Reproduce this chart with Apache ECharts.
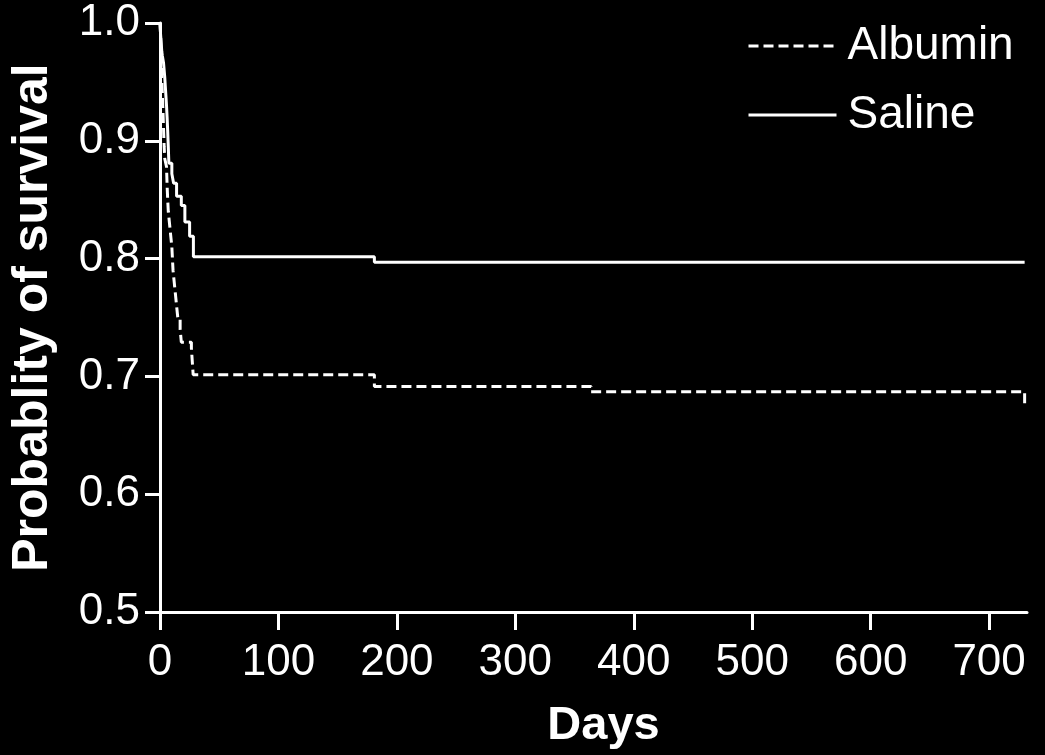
<!DOCTYPE html>
<html>
<head>
<meta charset="utf-8">
<script src="https://cdn.jsdelivr.net/npm/echarts@6/dist/echarts.min.js"></script>
<style>
  html, body { margin: 0; padding: 0; background: #000; }
  #chart { width: 1045px; height: 755px; }
</style>
</head>
<body>
<div id="chart"></div>
<script>
// Kaplan-Meier survival data: [day, probability]
var albumin = [
  [0, 1.0], [0.5, 0.99], [1, 0.975], [1.5, 0.955], [2, 0.94], [2.5, 0.925],
  [3, 0.91], [3.5, 0.895], [4, 0.885], [5.5, 0.878], [6, 0.862], [6.5, 0.85],
  [7, 0.84], [8, 0.83], [9, 0.82], [10, 0.81], [10.5, 0.80], [11, 0.79],
  [12, 0.78], [13, 0.77], [14, 0.76], [15, 0.75], [17, 0.74], [18, 0.729],
  [26.5, 0.724], [28, 0.7015], [181, 0.6915], [364, 0.687], [730, 0.676]
];
var saline = [
  [0, 1.0], [0.5, 0.99], [1, 0.983], [1.5, 0.976], [2, 0.972], [3, 0.966],
  [3.5, 0.96], [4, 0.954], [4.5, 0.946], [5, 0.938], [5.5, 0.93], [6, 0.92],
  [6.5, 0.908], [7, 0.895], [7.5, 0.881], [10, 0.872], [11.5, 0.864],
  [14, 0.853], [18, 0.845], [21, 0.831], [25, 0.819], [28.2, 0.8015],
  [181, 0.797], [730, 0.797]
];
var xTicks = [0, 100, 200, 300, 400, 500, 600, 700];
var yTicks = [0.5, 0.6, 0.7, 0.8, 0.9, 1.0];
var seriesNames = ['Albumin', 'Saline'];

var FONT = '"Liberation Sans", Arial, sans-serif';
var chart = echarts.init(document.getElementById('chart'));
chart.setOption({
  backgroundColor: '#000',
  animation: false,
  grid: { left: 158, right: 18, top: 23, bottom: 139.5 },
  legend: {
    data: seriesNames,
    orient: 'vertical',
    left: 747,
    top: 23,
    padding: 0,
    itemWidth: 88,
    itemHeight: 14,
    itemGap: 23,
    lineStyle: { width: 3 },
    itemStyle: { opacity: 0 },
    textStyle: { color: '#fff', fontSize: 46, lineHeight: 46, fontFamily: FONT, padding: [0, 0, 0, 6] }
  },
  xAxis: {
    type: 'value',
    min: 0,
    max: 732,
    interval: 100,
    name: 'Days',
    nameLocation: 'middle',
    nameGap: 91,
    nameTextStyle: { color: '#fff', fontSize: 47, fontWeight: 'bold', fontFamily: FONT, padding: [0, 0, 0, 20] },
    axisLine: { show: true, lineStyle: { color: '#fff', width: 3 } },
    axisTick: { show: true, length: 18, lineStyle: { color: '#fff', width: 3 }, customValues: xTicks },
    axisLabel: { color: '#fff', fontSize: 44, fontFamily: FONT, margin: 29, customValues: xTicks },
    splitLine: { show: false }
  },
  yAxis: {
    type: 'value',
    min: 0.5,
    max: 1.0,
    interval: 0.1,
    name: 'Probablity of survival',
    nameLocation: 'middle',
    nameGap: 102,
    nameTextStyle: { color: '#fff', fontSize: 50, fontWeight: 'bold', fontFamily: FONT },
    axisLine: { show: true, lineStyle: { color: '#fff', width: 3 } },
    axisTick: { show: true, length: 15, lineStyle: { color: '#fff', width: 3 }, customValues: yTicks },
    axisLabel: { color: '#fff', fontSize: 44, fontFamily: FONT, margin: 20, customValues: yTicks,
      formatter: function (v) { return v.toFixed(1); } },
    splitLine: { show: false }
  },
  series: [
    {
      name: seriesNames[0],
      type: 'line',
      step: 'end',
      data: albumin,
      symbol: 'none',
      lineStyle: { color: '#fff', width: 3, type: [10, 5] },
      itemStyle: { color: '#fff' }
    },
    {
      name: seriesNames[1],
      type: 'line',
      step: 'end',
      data: saline,
      symbol: 'none',
      lineStyle: { color: '#fff', width: 3, type: 'solid' },
      itemStyle: { color: '#fff' }
    }
  ]
});
</script>
</body>
</html>
